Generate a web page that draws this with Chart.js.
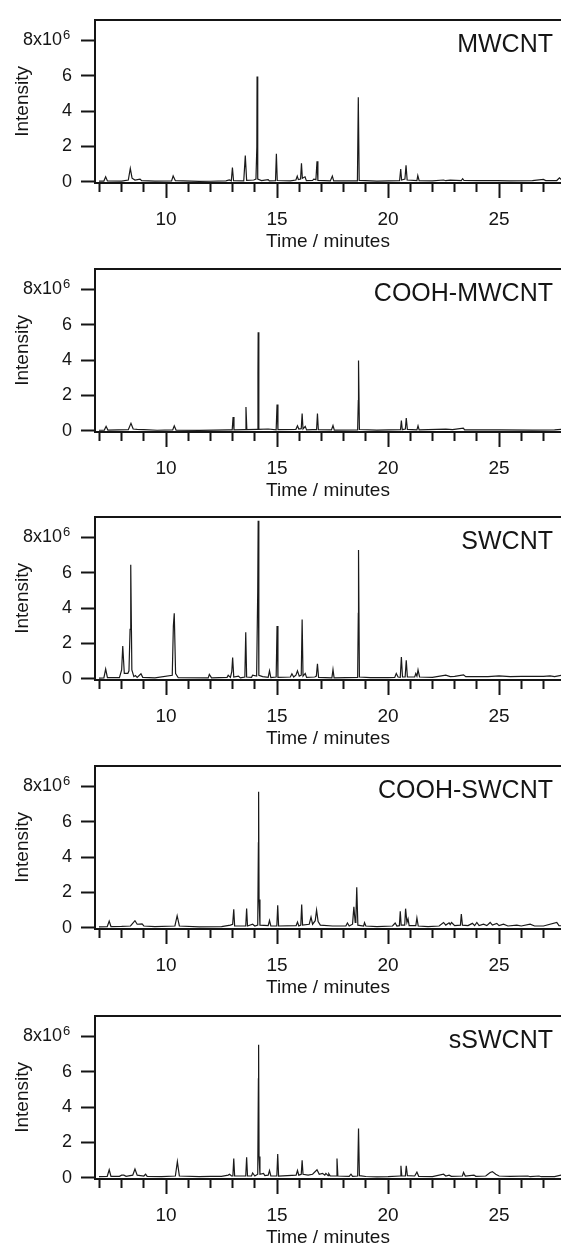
<!DOCTYPE html>
<html>
<head>
<meta charset="utf-8">
<script src="https://cdn.jsdelivr.net/npm/chart.js@4.4.1/dist/chart.umd.min.js"></script>
<style>
  html, body { margin: 0; padding: 0; background: #fff; overflow: hidden; }
  body { width: 561px; height: 1248px; position: relative; }
  canvas { position: absolute; left: 0; }
</style>
</head>
<body>
<canvas id="p0" width="561" height="256"></canvas>
<canvas id="p1" width="561" height="256"></canvas>
<canvas id="p2" width="561" height="256"></canvas>
<canvas id="p3" width="561" height="256"></canvas>
<canvas id="p4" width="561" height="256"></canvas>
<script>
// sample names, one panel each
const sampleNames = ['MWCNT', 'COOH-MWCNT', 'SWCNT', 'COOH-SWCNT', 'sSWCNT'];
const xTickLabels = [10, 15, 20, 25];
const yTickLabels = [0, 2, 4, 6, 8];

// traces: [time (min), intensity (x10^6)]
const mwcnt = [
  [6.98,0.04],[7.2,0.04],[7.28,0.28],[7.36,0.05],[8.0,0.04],[8.3,0.1],[8.39,0.75],[8.47,0.2],[8.6,0.1],
  [8.83,0.15],[8.9,0.06],[9.5,0.04],[10.25,0.05],[10.32,0.33],[10.42,0.06],[11.5,0.02],[12.0,0.03],
  [12.7,0.05],[12.85,0.1],[12.94,0.05],[12.99,0.8],[13.04,0.06],[13.5,0.05],[13.57,1.48],[13.63,0.08],
  [13.95,0.1],[14.05,0.15],[14.09,2.0],[14.1,5.95],[14.13,0.15],[14.3,0.07],[14.6,0.12],[14.65,0.05],
  [14.93,0.06],[14.97,1.58],[15.01,0.07],[15.6,0.05],[15.85,0.1],[15.91,0.32],[15.96,0.12],[16.06,0.15],
  [16.1,1.05],[16.14,0.2],[16.26,0.28],[16.32,0.06],[16.6,0.07],[16.65,0.15],[16.75,0.12],[16.8,1.16],
  [16.84,0.08],[17.4,0.05],[17.49,0.32],[17.55,0.05],[18.62,0.05],[18.66,4.78],[18.7,0.08],[19.5,0.04],
  [20.52,0.06],[20.57,0.72],[20.61,0.1],[20.76,0.15],[20.81,0.93],[20.86,0.1],[21.3,0.06],[21.34,0.35],
  [21.4,0.06],[22.0,0.05],[22.5,0.1],[22.6,0.06],[22.8,0.09],[23.3,0.07],[23.36,0.17],[23.42,0.07],
  [24.0,0.06],[24.9,0.07],[25.5,0.05],[26.5,0.07],[27.0,0.13],[27.1,0.07],[27.6,0.07],[27.72,0.22],
  [27.8,0.12],[28.0,0.1]
];
const coohMwcnt = [
  [6.98,0.03],[7.22,0.04],[7.3,0.25],[7.38,0.04],[8.3,0.06],[8.42,0.42],[8.52,0.1],[8.7,0.08],[9.0,0.06],
  [9.6,0.03],[10.3,0.05],[10.37,0.28],[10.45,0.04],[11.5,0.02],[12.8,0.05],[12.98,0.05],[13.02,0.78],
  [13.06,0.05],[13.56,0.06],[13.6,1.35],[13.64,0.06],[14.11,0.08],[14.14,3.3],[14.15,5.58],[14.18,0.08],
  [14.6,0.1],[14.96,0.05],[15.0,1.48],[15.04,0.06],[15.85,0.08],[15.92,0.28],[15.98,0.1],[16.09,0.12],
  [16.13,0.97],[16.17,0.1],[16.27,0.25],[16.33,0.05],[16.6,0.06],[16.78,0.06],[16.82,0.98],[16.86,0.06],
  [17.45,0.05],[17.52,0.3],[17.58,0.04],[18.63,0.05],[18.66,1.7],[18.67,3.97],[18.71,0.07],[19.5,0.04],
  [20.56,0.06],[20.6,0.58],[20.64,0.06],[20.78,0.1],[20.82,0.72],[20.87,0.08],[21.3,0.05],[21.35,0.28],
  [21.4,0.05],[22.6,0.09],[22.9,0.06],[23.39,0.15],[23.45,0.05],[25.0,0.05],[26.5,0.04],[27.5,0.05],
  [28.0,0.1]
];
const swcnt = [
  [6.98,0.04],[7.2,0.05],[7.28,0.55],[7.36,0.06],[7.9,0.06],[8.0,0.5],[8.05,1.85],[8.12,0.3],[8.28,0.3],
  [8.33,0.45],[8.38,2.8],[8.41,6.45],[8.46,0.5],[8.55,0.12],[8.62,0.18],[8.7,0.08],[8.87,0.28],[8.95,0.08],
  [9.5,0.05],[10.28,0.2],[10.33,3.0],[10.37,3.7],[10.43,0.3],[10.55,0.06],[11.9,0.05],[11.95,0.25],
  [12.05,0.05],[12.75,0.08],[12.8,0.2],[12.9,0.08],[12.96,0.4],[13.0,1.2],[13.05,0.1],[13.26,0.15],
  [13.35,0.05],[13.55,0.1],[13.59,2.63],[13.63,0.1],[13.85,0.08],[13.9,0.2],[14.08,0.15],[14.13,5.0],
  [14.15,8.94],[14.18,0.2],[14.35,0.12],[14.6,0.08],[14.66,0.45],[14.72,0.06],[14.96,0.1],[15.0,2.98],
  [15.04,0.08],[15.6,0.1],[15.67,0.28],[15.75,0.1],[15.85,0.2],[15.92,0.45],[16.0,0.15],[16.09,0.2],
  [16.13,3.35],[16.17,0.15],[16.27,0.3],[16.33,0.08],[16.7,0.1],[16.77,0.15],[16.82,0.84],[16.87,0.08],
  [17.47,0.05],[17.52,0.52],[17.57,0.05],[18.63,0.08],[18.66,3.7],[18.67,7.28],[18.71,0.1],[19.2,0.06],
  [20.0,0.07],[20.3,0.08],[20.37,0.3],[20.45,0.1],[20.55,0.08],[20.6,1.23],[20.65,0.1],[20.77,0.1],
  [20.82,1.05],[20.87,0.1],[21.2,0.1],[21.25,0.3],[21.3,0.15],[21.35,0.5],[21.42,0.1],[22.0,0.08],
  [22.6,0.2],[22.8,0.12],[23.0,0.14],[23.4,0.22],[23.5,0.12],[24.0,0.12],[24.5,0.12],[25.0,0.16],
  [25.5,0.12],[26.0,0.14],[26.5,0.14],[27.0,0.14],[27.3,0.16],[27.5,0.12],[27.8,0.2],[28.0,0.15]
];
const coohSwcnt = [
  [6.98,0.05],[7.35,0.06],[7.44,0.38],[7.52,0.07],[8.0,0.08],[8.4,0.1],[8.6,0.4],[8.7,0.2],[8.92,0.22],
  [9.0,0.1],[9.5,0.07],[10.4,0.1],[10.5,0.68],[10.6,0.1],[11.5,0.05],[12.5,0.06],[12.9,0.15],[13.0,0.2],
  [13.05,1.04],[13.09,0.1],[13.59,0.1],[13.63,1.09],[13.67,0.1],[13.9,0.2],[14.0,0.1],[14.13,0.15],
  [14.16,4.8],[14.17,7.7],[14.19,1.6],[14.23,0.15],[14.6,0.12],[14.66,0.41],[14.72,0.1],[14.99,0.1],
  [15.03,1.27],[15.07,0.1],[15.86,0.12],[15.92,0.32],[15.98,0.1],[16.07,0.15],[16.11,1.31],[16.15,0.15],
  [16.45,0.2],[16.53,0.6],[16.6,0.2],[16.72,0.4],[16.78,1.0],[16.85,0.35],[16.95,0.15],[17.5,0.1],
  [18.1,0.1],[18.17,0.27],[18.25,0.1],[18.4,0.2],[18.46,1.18],[18.52,0.3],[18.55,0.5],[18.59,2.29],
  [18.64,0.15],[18.9,0.1],[18.94,0.29],[19.0,0.1],[19.5,0.06],[20.2,0.1],[20.32,0.27],[20.4,0.1],
  [20.51,0.12],[20.55,0.93],[20.59,0.15],[20.75,0.15],[20.79,1.08],[20.85,0.3],[20.9,0.5],[20.95,0.12],
  [21.25,0.12],[21.3,0.56],[21.36,0.1],[21.8,0.07],[22.3,0.1],[22.5,0.3],[22.6,0.15],[22.75,0.28],
  [22.8,0.18],[22.86,0.3],[23.0,0.12],[23.26,0.15],[23.3,0.77],[23.35,0.15],[23.6,0.12],[23.8,0.25],
  [23.9,0.12],[24.0,0.3],[24.1,0.12],[24.3,0.2],[24.45,0.12],[24.6,0.3],[24.7,0.15],[24.9,0.25],
  [25.0,0.12],[25.2,0.2],[25.4,0.1],[25.8,0.15],[26.0,0.1],[26.4,0.2],[26.6,0.1],[27.0,0.1],[27.6,0.3],
  [27.7,0.12],[28.0,0.1]
];
const sSwcnt = [
  [6.98,0.06],[7.35,0.07],[7.44,0.45],[7.52,0.08],[7.9,0.08],[8.0,0.15],[8.1,0.15],[8.2,0.08],[8.5,0.15],
  [8.6,0.5],[8.7,0.15],[9.0,0.1],[9.08,0.2],[9.15,0.08],[9.8,0.07],[10.42,0.1],[10.51,0.91],[10.6,0.1],
  [11.5,0.06],[12.0,0.08],[12.5,0.08],[12.8,0.15],[12.86,0.2],[12.95,0.1],[13.01,0.1],[13.05,1.09],
  [13.09,0.1],[13.59,0.1],[13.63,1.16],[13.67,0.1],[13.85,0.1],[13.9,0.27],[14.0,0.1],[14.13,0.2],
  [14.16,5.6],[14.17,7.53],[14.19,1.2],[14.23,0.2],[14.39,0.25],[14.45,0.12],[14.6,0.15],[14.66,0.41],
  [14.72,0.1],[14.99,0.1],[15.03,1.34],[15.07,0.1],[15.86,0.15],[15.92,0.41],[15.98,0.15],[16.09,0.2],
  [16.13,0.99],[16.17,0.2],[16.4,0.15],[16.6,0.2],[16.8,0.45],[16.9,0.2],[17.05,0.25],[17.15,0.15],
  [17.2,0.25],[17.3,0.12],[17.33,0.23],[17.4,0.1],[17.66,0.1],[17.7,1.09],[17.74,0.1],[18.25,0.08],
  [18.33,0.2],[18.4,0.08],[18.63,0.1],[18.67,2.78],[18.71,0.12],[19.0,0.07],[19.5,0.05],[20.0,0.06],
  [20.54,0.1],[20.58,0.68],[20.62,0.1],[20.78,0.1],[20.82,0.68],[20.87,0.12],[21.2,0.1],[21.3,0.32],
  [21.38,0.08],[22.0,0.07],[22.5,0.2],[22.6,0.1],[22.75,0.15],[22.85,0.08],[23.35,0.1],[23.4,0.3],
  [23.48,0.1],[23.87,0.15],[23.95,0.08],[24.4,0.1],[24.6,0.3],[24.7,0.35],[24.85,0.2],[25.0,0.1],
  [25.5,0.08],[26.3,0.1],[26.4,0.06],[26.8,0.1],[26.9,0.06],[27.5,0.07],[27.8,0.15],[28.0,0.1]
];
const traces = [mwcnt, coohMwcnt, swcnt, coohSwcnt, sSwcnt];

// canvas offsets so each zero line sits where the reference has it
const panelTops = [0, 249, 497, 746, 996];

const ink = '#151515';
const font = 'Liberation Sans, Arial, sans-serif';

// panel name top right + the "6" exponent on the top y label
const panelText = {
  id: 'panelText',
  afterDraw(chart, args, opts) {
    const {ctx, chartArea, scales} = chart;
    ctx.save();
    ctx.fillStyle = ink;
    ctx.textBaseline = 'alphabetic';
    ctx.font = '25px ' + font;
    ctx.textAlign = 'right';
    ctx.fillText(opts.text, chartArea.right - 8, chartArea.top + 32);
    ctx.font = '13px ' + font;
    ctx.textAlign = 'left';
    ctx.fillText('6', chartArea.left - 32, scales.y.getPixelForValue(8) - 1);
    ctx.restore();
  }
};

function drawPanel(i) {
  const canvas = document.getElementById('p' + i);
  canvas.style.top = panelTops[i] + 'px';
  new Chart(canvas, {
    type: 'line',
    data: {
      datasets: [{
        data: traces[i].map(p => ({x: p[0], y: p[1]})),
        borderColor: '#1a1a1a',
        borderWidth: 1.2,
        pointRadius: 0,
        tension: 0
      }]
    },
    options: {
      responsive: false,
      animation: false,
      devicePixelRatio: 1,
      layout: { padding: 0 },
      plugins: {
        legend: { display: false },
        tooltip: { enabled: false },
        panelText: { text: sampleNames[i] }
      },
      scales: {
        x: {
          type: 'linear',
          position: 'bottom',
          min: 6.8,
          max: 27.79,
          ticks: {
            stepSize: 1,
            autoSkip: false,
            maxRotation: 0,
            includeBounds: false,
            padding: 10,
            color: ink,
            font: { family: font, size: 19 },
            callback: v => xTickLabels.includes(v) ? String(v) : ''
          },
          grid: {
            drawOnChartArea: false,
            tickLength: 15,
            tickWidth: 2,
            tickColor: ink,
            // minor ticks are shorter: dash cuts them off
            tickBorderDash: c => (c.tick && c.tick.value % 5 === 0) ? [] : [8, 40]
          },
          border: { color: ink, width: 2 },
          title: {
            display: true,
            text: 'Time / minutes',
            color: ink,
            font: { family: font, size: 19 },
            padding: { top: 0, bottom: 3 }
          },
          afterFit: s => { s.height = 73; }
        },
        xTop: {
          type: 'linear',
          position: 'top',
          min: 6.8,
          max: 27.79,
          ticks: { display: false },
          grid: { drawOnChartArea: false, drawTicks: false },
          border: { color: ink, width: 2 },
          afterFit: s => { s.height = 11; }
        },
        y: {
          min: -0.07,
          max: 9.165,
          ticks: {
            stepSize: 2,
            includeBounds: false,
            padding: 9,
            color: ink,
            font: { family: font, size: 18 },
            callback: v => yTickLabels.includes(v) ? (v === 8 ? '8x10  ' : String(v)) : ''
          },
          grid: {
            drawOnChartArea: false,
            tickLength: 14,
            tickWidth: 2,
            tickColor: ink
          },
          border: { color: ink, width: 2 },
          title: {
            display: true,
            text: 'Intensity',
            color: ink,
            font: { family: font, size: 19 },
            padding: { top: 11, bottom: 0 }
          },
          afterFit: s => { s.width = 95; }
        }
      }
    },
    plugins: [panelText]
  });
}

for (let i = 0; i < 5; i++) drawPanel(i);
</script>
</body>
</html>
